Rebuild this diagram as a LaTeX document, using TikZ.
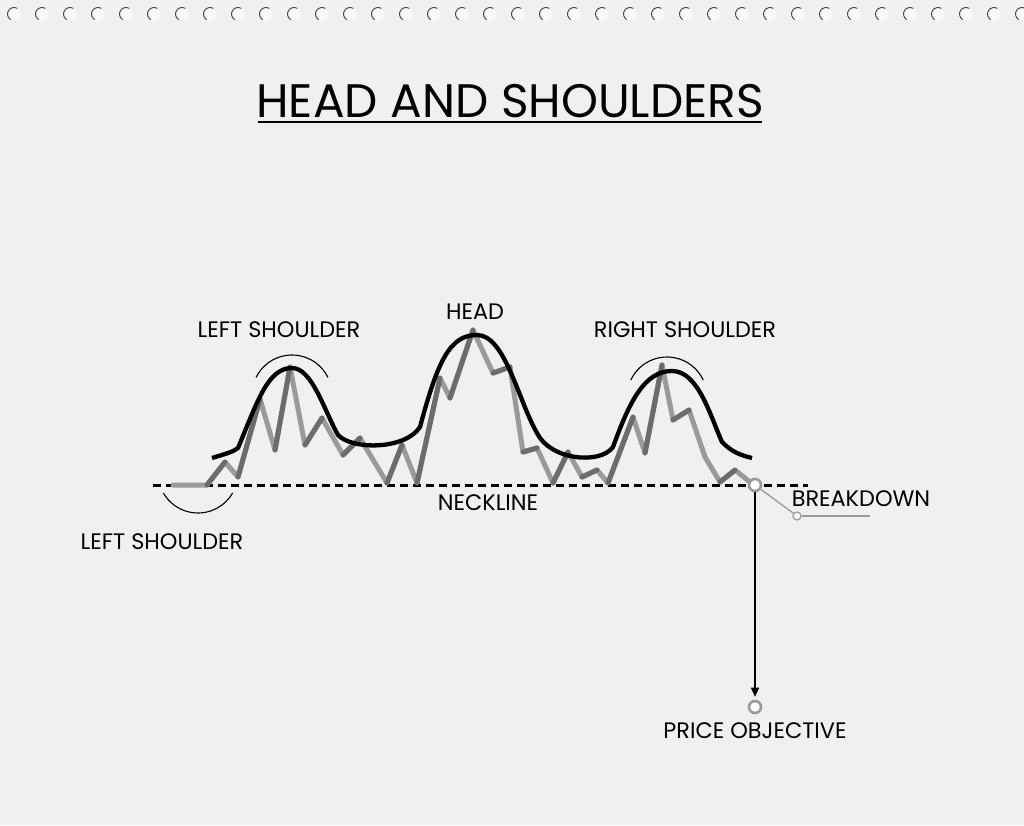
\documentclass[tikz,border=0pt]{standalone}
\usepackage{fontspec}
\setmainfont{Poppins}
\usetikzlibrary{arrows.meta}
\definecolor{bg}{HTML}{F0F0F0}
\definecolor{pricelight}{HTML}{9A9A9A}
\definecolor{pricedark}{HTML}{6C6C6C}
\definecolor{ringgray}{HTML}{9A9A9A}
\tikzset{
  lbl/.style={inner sep=0pt, font=\fontsize{22.4}{26}\selectfont, text=black},
  price/.style={line width=5pt, line join=round, line cap=round, draw=pricelight},
  priceup/.style={line width=5pt, line cap=round, draw=pricedark},
  trend/.style={line width=4.3pt, line join=round, draw=black},
  markarc/.style={line width=1.1pt, draw=black},
  neck/.style={line width=3pt, draw=black, dash pattern=on 8pt off 5pt},
  ring/.style={circle, draw=ringgray, fill=white, line width=2.6pt, minimum size=12pt, inner sep=0pt},
  smallring/.style={circle, draw=ringgray, fill=white, line width=1.3pt, minimum size=8pt, inner sep=0pt},
  hole/.style={fill=white!60!bg},
}
\begin{document}
\begin{tikzpicture}[x=1pt,y=1pt]
\fill[bg] (0,0) rectangle (1024,-825);
\useasboundingbox (0,0) rectangle (1024,-825);
% binder holes
\foreach \k in {0,...,36}{
  \fill[hole] (14+28*\k,-14) circle (6.5);
  \draw[black!75, line width=0.9pt] ({14+28*\k+6.5*cos(60)},{-14+6.5*sin(60)}) arc (60:240:6.5);
}
% title
\node[inner sep=0pt, font=\fontsize{47}{54}\selectfont, anchor=base] (title) at (510,-117) {HEAD AND SHOULDERS};
\draw[line width=2pt] (258,-122) -- (762,-122);
% neckline
\coordinate (n1) at (153,-485);
\coordinate (n2) at (808,-485);
\draw[neck] (n1) -- (n2);
% price line
\foreach \x/\y [count=\i] in {173/485,207/485,225/462,238/477,260/399,275/450,290/367,305/445,322/418,343/455,360/438,387/483,402/445,417/483,440/378,450/398,473/330,493/373,510/367,523/452,537/448,553/483,568/452,582/477,597/470,608/483,633/417,645/453,662/365,673/420,689/410,705/457,720/482,735/470,750/482}
  \coordinate (p\i) at (\x,-\y);
\draw[price] (p1) \foreach \i in {2,...,35}{ -- (p\i) };
\foreach \i/\j in {2/3,4/5,6/7,8/9,10/11,12/13,14/15,16/17,18/19,20/21,22/23,24/25,26/27,28/29,30/31,33/34}
  \draw[priceup] (p\i) -- (p\j);
% trend curve
\draw[trend] (212,-458) .. controls (225,-454) and (233,-452) .. (238,-448)
  .. controls (258,-400) and (268,-368) .. (292,-368)
  .. controls (312,-368) and (324,-410) .. (338,-435)
  .. controls (352,-450) and (405,-450) .. (420,-427)
  .. controls (438,-360) and (450,-335) .. (477,-335)
  .. controls (505,-335) and (518,-400) .. (537,-433)
  .. controls (550,-460) and (600,-465) .. (613,-447)
  .. controls (630,-400) and (645,-371) .. (672,-371)
  .. controls (698,-371) and (710,-415) .. (722,-442)
  .. controls (732,-452) and (740,-455) .. (752,-458);
% marker arcs
\draw[markarc] ({292+40*cos(154)},{-395+40*sin(154)}) arc (154:26:40);
\draw[markarc] ({667+40*cos(155)},{-397+40*sin(155)}) arc (155:25:40);
\draw[markarc] ({198+40*cos(210)},{-473+40*sin(210)}) arc (210:330:40);
% breakdown and objective
\node[ring] (bd) at (755,-485) {};
\node[smallring] (bdl) at (797,-516) {};
\coordinate (bdend) at (870,-516);
\draw[ringgray, line width=1.3pt] (bd) -- (bdl);
\draw[ringgray, line width=1.3pt] (bdl) -- (bdend);
\node[ring] (po) at (755,-707) {};
\draw[line width=1.6pt, -{Triangle[length=9pt,width=8pt]}] (bd) -- ([yshift=3pt]po.north);
% labels
\node[lbl] (lsl) at (279,-330) {LEFT SHOULDER};
\node[lbl] (hl) at (475,-312) {HEAD};
\node[lbl] (rsl) at (685,-330) {RIGHT SHOULDER};
\node[lbl] (nl) at (488,-503) {NECKLINE};
\node[lbl] (lsl2) at (162,-542) {LEFT SHOULDER};
\node[lbl] (bdt) at (861,-499) {BREAKDOWN};
\node[lbl] (pot) at (755,-731) {PRICE OBJECTIVE};
\end{tikzpicture}
\end{document}
